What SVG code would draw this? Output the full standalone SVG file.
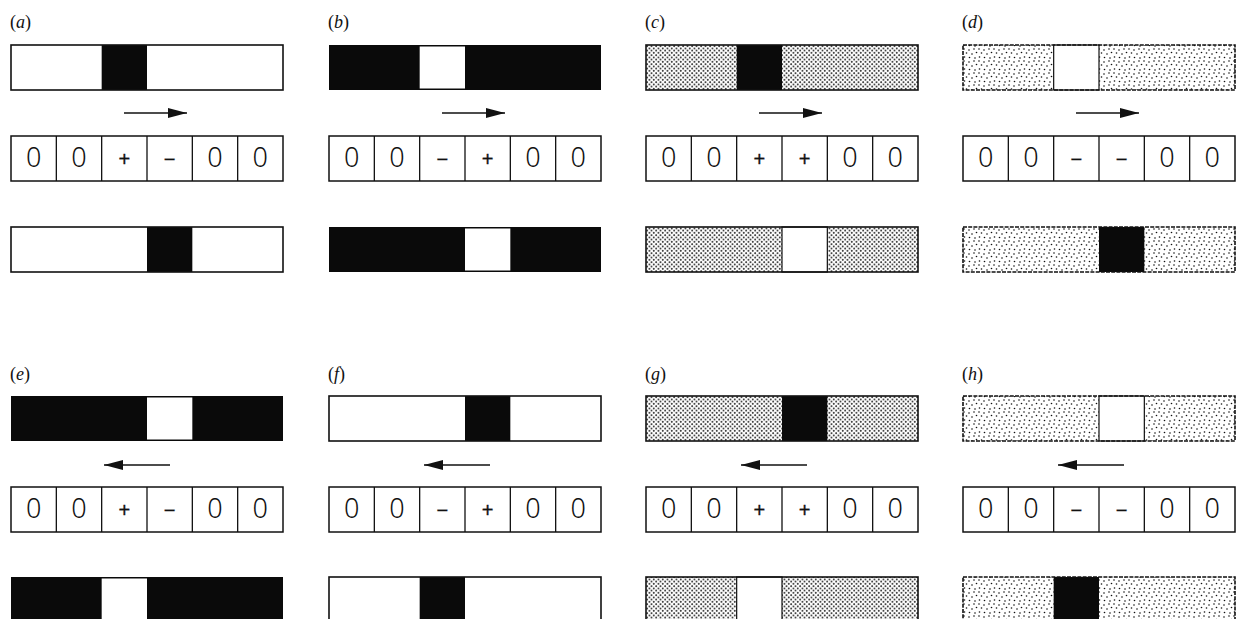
<svg xmlns="http://www.w3.org/2000/svg" width="1237" height="619" viewBox="0 0 1237 619">
<style>
.lbl{font-family:"Liberation Serif",serif;font-size:18px;fill:#111}
.lbl tspan.i{font-style:italic}
.ol{fill:none;stroke:#111;stroke-width:1.6}
.blk{fill:#0a0a0a}
.wht{fill:#fff}
.wseg{fill:#fff;stroke:#111;stroke-width:1.2}
.dense{fill:url(#dense)}
.sparse{fill:url(#sparse)}
.olsp{fill:none;stroke:#111;stroke-width:1.6;stroke-dasharray:4 1.2}
.cell{fill:#fff;stroke:#111;stroke-width:1.5}
.div{stroke:#111;stroke-width:1.3}
.z{font-family:"Noto Sans","Liberation Sans",Arial,sans-serif;font-weight:300;font-size:27px;text-anchor:middle;fill:#111}
.s{font-family:"Liberation Sans",Arial,sans-serif;font-size:20px;text-anchor:middle;fill:#111;stroke:#111;stroke-width:0.35}
.arr{stroke:#111;stroke-width:1.6;fill:none;marker-end:url(#ah)}
</style>
<defs>
<pattern id="dense" patternUnits="userSpaceOnUse" width="4.5" height="4.5">
<rect width="4.5" height="4.5" fill="#fff"/>
<circle cx="1.1" cy="1.1" r="0.85" fill="#000"/>
<circle cx="3.35" cy="3.35" r="0.85" fill="#000"/>
</pattern>
<pattern id="sparse" patternUnits="userSpaceOnUse" width="15" height="12">
<rect width="15" height="12" fill="#fff"/>
<circle cx="1" cy="1" r="0.8" fill="#111"/>
<circle cx="6" cy="2" r="0.8" fill="#111"/>
<circle cx="11" cy="1" r="0.8" fill="#111"/>
<circle cx="3.5" cy="5" r="0.8" fill="#111"/>
<circle cx="9" cy="6" r="0.8" fill="#111"/>
<circle cx="13.5" cy="4.5" r="0.8" fill="#111"/>
<circle cx="1.5" cy="9" r="0.8" fill="#111"/>
<circle cx="6.5" cy="9.5" r="0.8" fill="#111"/>
<circle cx="12" cy="10" r="0.8" fill="#111"/>
</pattern>
<marker id="ah" markerUnits="userSpaceOnUse" markerWidth="21" markerHeight="12" refX="19" refY="6" orient="auto">
<path d="M0,1 L19,6 L0,11 z" fill="#111"/>
</marker>
</defs>
<rect width="1237" height="619" fill="#fff"/>

<!-- (a) -->
<g id="panel-a" transform="translate(11,0)">
<text class="lbl" x="-1" y="28">(<tspan class="i">a</tspan>)</text>
<rect class="wht" x="0" y="45" width="272" height="45"/>
<rect class="blk" x="90.67" y="45" width="45.33" height="45"/>
<rect class="ol" x="0" y="45" width="272" height="45"/>
<rect class="cell" x="0" y="136" width="272" height="45"/>
<path class="div" d="M45.33,136V181M90.67,136V181M136,136V181M181.33,136V181M226.67,136V181"/>
<text class="z" x="22.67" y="167">0</text><text class="z" x="68" y="167">0</text><text class="s" x="113.33" y="166">+</text><text class="s" x="158.67" y="166">−</text><text class="z" x="204" y="167">0</text><text class="z" x="249.33" y="167">0</text>
<rect class="wht" x="0" y="227" width="272" height="45"/>
<rect class="blk" x="136" y="227" width="45.33" height="45"/>
<rect class="ol" x="0" y="227" width="272" height="45"/>
</g>

<!-- (b) -->
<g id="panel-b" transform="translate(329,0)">
<text class="lbl" x="-1" y="28">(<tspan class="i">b</tspan>)</text>
<rect class="blk" x="0" y="45" width="272" height="45"/>
<rect class="wht" x="90.67" y="46.5" width="45.33" height="42"/>
<rect class="cell" x="0" y="136" width="272" height="45"/>
<path class="div" d="M45.33,136V181M90.67,136V181M136,136V181M181.33,136V181M226.67,136V181"/>
<text class="z" x="22.67" y="167">0</text><text class="z" x="68" y="167">0</text><text class="s" x="113.33" y="166">−</text><text class="s" x="158.67" y="166">+</text><text class="z" x="204" y="167">0</text><text class="z" x="249.33" y="167">0</text>
<rect class="blk" x="0" y="227" width="272" height="45"/>
<rect class="wht" x="136" y="228.5" width="45.33" height="42"/>
</g>

<!-- (c) -->
<g id="panel-c" transform="translate(646,0)">
<text class="lbl" x="-1" y="28">(<tspan class="i">c</tspan>)</text>
<rect class="dense" x="0" y="45" width="272" height="45"/>
<rect class="blk" x="90.67" y="45" width="45.33" height="45"/>
<rect class="ol" x="0" y="45" width="272" height="45"/>
<rect class="cell" x="0" y="136" width="272" height="45"/>
<path class="div" d="M45.33,136V181M90.67,136V181M136,136V181M181.33,136V181M226.67,136V181"/>
<text class="z" x="22.67" y="167">0</text><text class="z" x="68" y="167">0</text><text class="s" x="113.33" y="166">+</text><text class="s" x="158.67" y="166">+</text><text class="z" x="204" y="167">0</text><text class="z" x="249.33" y="167">0</text>
<rect class="dense" x="0" y="227" width="272" height="45"/>
<rect class="wseg" x="136" y="227" width="45.33" height="45"/>
<rect class="ol" x="0" y="227" width="272" height="45"/>
</g>

<!-- (d) -->
<g id="panel-d" transform="translate(963,0)">
<text class="lbl" x="-1" y="28">(<tspan class="i">d</tspan>)</text>
<rect class="sparse" x="0" y="45" width="272" height="45"/>
<rect class="wseg" x="90.67" y="45" width="45.33" height="45"/>
<rect class="olsp" x="0" y="45" width="272" height="45"/>
<rect class="cell" x="0" y="136" width="272" height="45"/>
<path class="div" d="M45.33,136V181M90.67,136V181M136,136V181M181.33,136V181M226.67,136V181"/>
<text class="z" x="22.67" y="167">0</text><text class="z" x="68" y="167">0</text><text class="s" x="113.33" y="166">−</text><text class="s" x="158.67" y="166">−</text><text class="z" x="204" y="167">0</text><text class="z" x="249.33" y="167">0</text>
<rect class="sparse" x="0" y="227" width="272" height="45"/>
<rect class="blk" x="136" y="227" width="45.33" height="45"/>
<rect class="olsp" x="0" y="227" width="272" height="45"/>
</g>

<!-- (e) -->
<g id="panel-e" transform="translate(11,351)">
<text class="lbl" x="-1" y="29">(<tspan class="i">e</tspan>)</text>
<rect class="blk" x="0" y="45" width="272" height="45"/>
<rect class="wht" x="136" y="46.5" width="45.33" height="42"/>
<rect class="cell" x="0" y="136" width="272" height="45"/>
<path class="div" d="M45.33,136V181M90.67,136V181M136,136V181M181.33,136V181M226.67,136V181"/>
<text class="z" x="22.67" y="167">0</text><text class="z" x="68" y="167">0</text><text class="s" x="113.33" y="166">+</text><text class="s" x="158.67" y="166">−</text><text class="z" x="204" y="167">0</text><text class="z" x="249.33" y="167">0</text>
<rect class="blk" x="0" y="226" width="272" height="45"/>
<rect class="wht" x="90.67" y="227.5" width="45.33" height="42"/>
</g>

<!-- (f) -->
<g id="panel-f" transform="translate(329,351)">
<text class="lbl" x="-1" y="29">(<tspan class="i">f</tspan>)</text>
<rect class="wht" x="0" y="45" width="272" height="45"/>
<rect class="blk" x="136" y="45" width="45.33" height="45"/>
<rect class="ol" x="0" y="45" width="272" height="45"/>
<rect class="cell" x="0" y="136" width="272" height="45"/>
<path class="div" d="M45.33,136V181M90.67,136V181M136,136V181M181.33,136V181M226.67,136V181"/>
<text class="z" x="22.67" y="167">0</text><text class="z" x="68" y="167">0</text><text class="s" x="113.33" y="166">−</text><text class="s" x="158.67" y="166">+</text><text class="z" x="204" y="167">0</text><text class="z" x="249.33" y="167">0</text>
<rect class="wht" x="0" y="226" width="272" height="45"/>
<rect class="blk" x="90.67" y="226" width="45.33" height="45"/>
<rect class="ol" x="0" y="226" width="272" height="45"/>
</g>

<!-- (g) -->
<g id="panel-g" transform="translate(646,351)">
<text class="lbl" x="-1" y="29">(<tspan class="i">g</tspan>)</text>
<rect class="dense" x="0" y="45" width="272" height="45"/>
<rect class="blk" x="136" y="45" width="45.33" height="45"/>
<rect class="ol" x="0" y="45" width="272" height="45"/>
<rect class="cell" x="0" y="136" width="272" height="45"/>
<path class="div" d="M45.33,136V181M90.67,136V181M136,136V181M181.33,136V181M226.67,136V181"/>
<text class="z" x="22.67" y="167">0</text><text class="z" x="68" y="167">0</text><text class="s" x="113.33" y="166">+</text><text class="s" x="158.67" y="166">+</text><text class="z" x="204" y="167">0</text><text class="z" x="249.33" y="167">0</text>
<rect class="dense" x="0" y="226" width="272" height="45"/>
<rect class="wseg" x="90.67" y="226" width="45.33" height="45"/>
<rect class="ol" x="0" y="226" width="272" height="45"/>
</g>

<!-- (h) -->
<g id="panel-h" transform="translate(963,351)">
<text class="lbl" x="-1" y="29">(<tspan class="i">h</tspan>)</text>
<rect class="sparse" x="0" y="45" width="272" height="45"/>
<rect class="wseg" x="136" y="45" width="45.33" height="45"/>
<rect class="olsp" x="0" y="45" width="272" height="45"/>
<rect class="cell" x="0" y="136" width="272" height="45"/>
<path class="div" d="M45.33,136V181M90.67,136V181M136,136V181M181.33,136V181M226.67,136V181"/>
<text class="z" x="22.67" y="167">0</text><text class="z" x="68" y="167">0</text><text class="s" x="113.33" y="166">−</text><text class="s" x="158.67" y="166">−</text><text class="z" x="204" y="167">0</text><text class="z" x="249.33" y="167">0</text>
<rect class="sparse" x="0" y="226" width="272" height="45"/>
<rect class="blk" x="90.67" y="226" width="45.33" height="45"/>
<rect class="olsp" x="0" y="226" width="272" height="45"/>
</g>

<g id="connectors">
<path class="arr" d="M124,113H187"/>
<path class="arr" d="M442,113H505"/>
<path class="arr" d="M759,113H822"/>
<path class="arr" d="M1076,113H1139"/>
<path class="arr" d="M170,465H104"/>
<path class="arr" d="M490,465H424"/>
<path class="arr" d="M807,465H741"/>
<path class="arr" d="M1124,465H1058"/>
</g>
</svg>
